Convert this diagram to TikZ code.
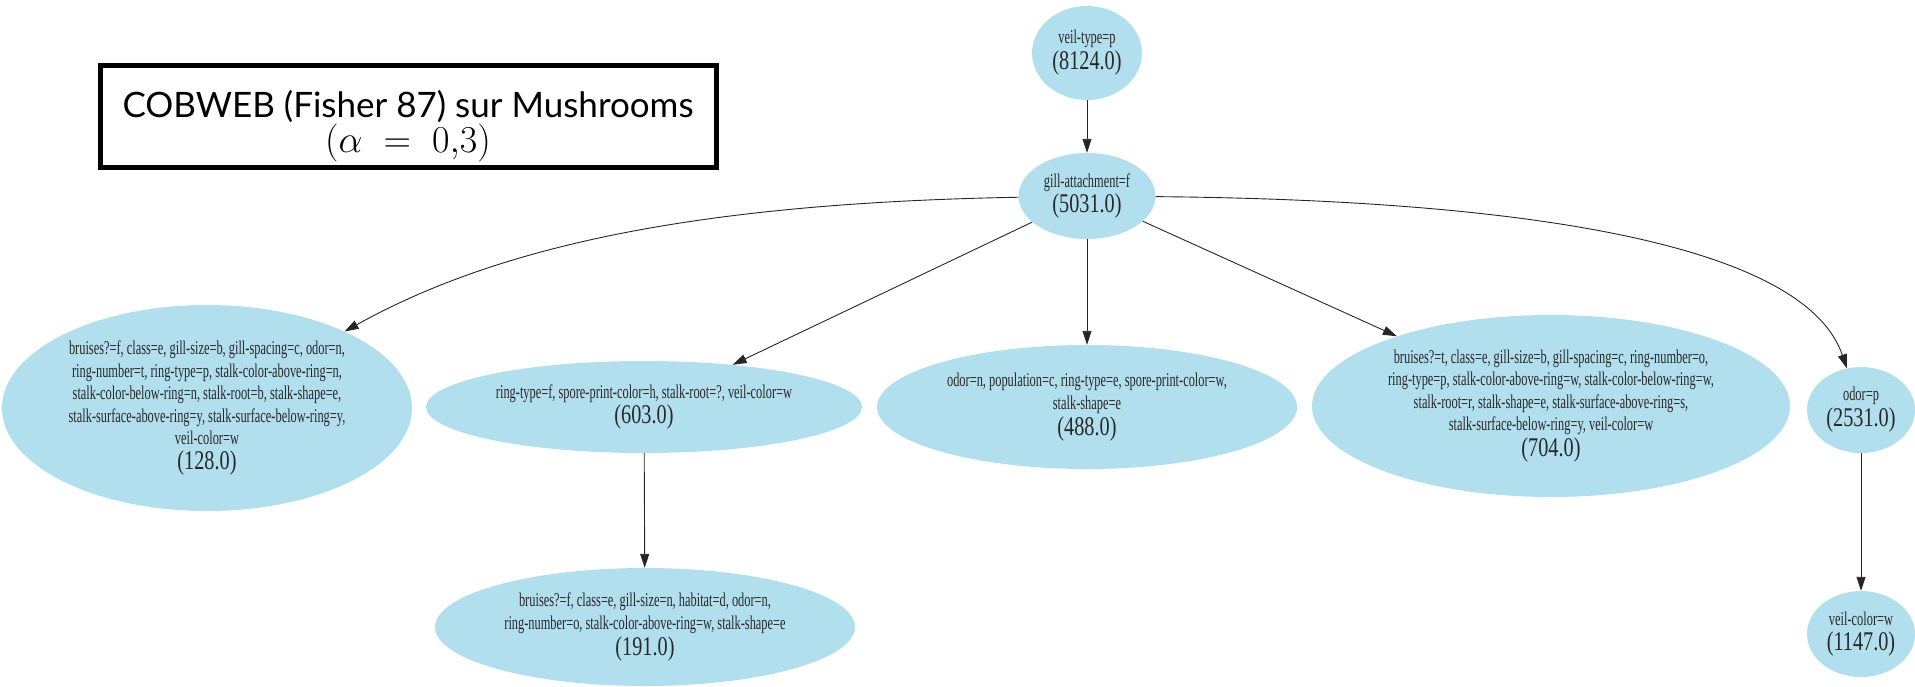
\RequirePackage{fix-cm}
\documentclass[tikz,border=0pt]{standalone}
\usepackage{fontspec}
\usetikzlibrary{shapes.geometric,arrows.meta}
\newfontfamily\nodefont[FakeStretch=0.635]{Liberation Serif}
\newfontfamily\countfont[FakeStretch=0.75]{Liberation Serif}
\newfontfamily\titlefont{Lato}
\definecolor{nodeblue}{RGB}{178,223,238}
\definecolor{txtgray}{RGB}{40,40,40}
\newcommand{\lblsize}{\fontsize{19.5}{22.5}\selectfont}
\newcommand{\cnt}[1]{\\[2pt]{\countfont\fontsize{27}{27}\selectfont #1}}
\tikzset{
  blob/.style={ellipse, fill=nodeblue, draw=none, inner sep=0pt},
  lbl/.style={align=center, font=\nodefont\lblsize, text=txtgray, inner sep=0pt},
  edge/.style={draw=black!85, line width=0.9pt, -{Triangle[length=14pt,width=9pt]}},
  titlebox/.style={draw=black, line width=5pt, fill=white, minimum width=616pt, minimum height=102pt, inner sep=0pt},
  titletext/.style={align=center, inner sep=0pt, font=\titlefont\fontsize{35}{35}\selectfont, yshift=-9.5pt}
}
\begin{document}
\begin{tikzpicture}[x=1pt,y=-1pt]
\useasboundingbox (0,0) rectangle (1915,686);
\node[titlebox, label={[titletext]center:{COBWEB (Fisher 87) sur Mushrooms\\{\fontsize{38}{35}\selectfont$(\alpha\;=\;0{,}3)$}}}] (title) at (408,116.5) {};

\node[blob, minimum width=110pt, minimum height=94pt, label={[lbl]center:{veil-type=p\cnt{(8124.0)}}}] (vt) at (1087,53) {};
\node[blob, minimum width=137pt, minimum height=86pt, label={[lbl]center:{gill-attachment=f\cnt{(5031.0)}}}] (ga) at (1087,196) {};
\node[blob, minimum width=410pt, minimum height=206pt, label={[lbl]center:{bruises?=f, class=e, gill-size=b, gill-spacing=c, odor=n,\\ring-number=t, ring-type=p, stalk-color-above-ring=n,\\stalk-color-below-ring=n, stalk-root=b, stalk-shape=e,\\stalk-surface-above-ring=y, stalk-surface-below-ring=y,\\veil-color=w\cnt{(128.0)}}}] (n128) at (207,408) {};
\node[blob, minimum width=436pt, minimum height=92pt, label={[lbl]center:{ring-type=f, spore-print-color=h, stalk-root=?, veil-color=w\cnt{(603.0)}}}] (n603) at (644,407) {};
\node[blob, minimum width=420pt, minimum height=124pt, label={[lbl]center:{odor=n, population=c, ring-type=e, spore-print-color=w,\\stalk-shape=e\cnt{(488.0)}}}] (n488) at (1087,407) {};
\node[blob, minimum width=478pt, minimum height=182pt, label={[lbl]center:{bruises?=t, class=e, gill-size=b, gill-spacing=c, ring-number=o,\\ring-type=p, stalk-color-above-ring=w, stalk-color-below-ring=w,\\stalk-root=r, stalk-shape=e, stalk-surface-above-ring=s,\\stalk-surface-below-ring=y, veil-color=w\cnt{(704.0)}}}] (n704) at (1551,406) {};
\node[blob, minimum width=108pt, minimum height=86pt, label={[lbl]center:{odor=p\cnt{(2531.0)}}}] (nodp) at (1861,410) {};
\node[blob, minimum width=420pt, minimum height=118pt, label={[lbl]center:{bruises?=f, class=e, gill-size=n, habitat=d, odor=n,\\ring-number=o, stalk-color-above-ring=w, stalk-shape=e\cnt{(191.0)}}}] (n191) at (645,627) {};
\node[blob, minimum width=108pt, minimum height=86pt, label={[lbl]center:{veil-color=w\cnt{(1147.0)}}}] (nvc) at (1861,634) {};

\draw[edge] (vt) -- (ga);
\draw[edge] (ga) .. controls (700,203) and (500,245) .. (n128);
\draw[edge] (ga) -- (n603);
\draw[edge] (ga) -- (n488);
\draw[edge] (ga) -- (n704);
\draw[edge] (ga) .. controls (1530,200) and (1805,245) .. (nodp);
\draw[edge] (n603) -- (n191);
\draw[edge] (nodp) -- (nvc);
\end{tikzpicture}
\end{document}
